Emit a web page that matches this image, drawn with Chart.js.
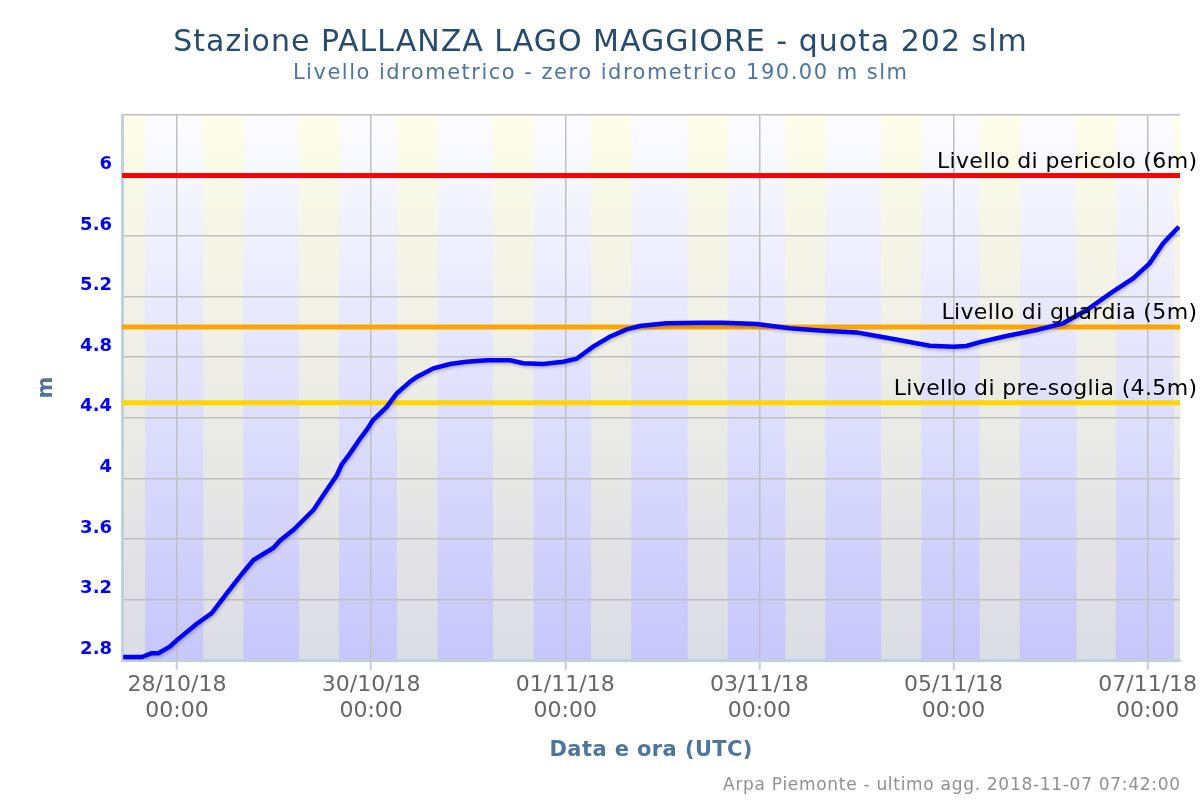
<!DOCTYPE html>
<html>
<head>
<meta charset="utf-8">
<script src="https://cdn.jsdelivr.net/npm/chart.js@4.4.1/dist/chart.umd.min.js"></script>
<style>
  html, body { margin: 0; padding: 0; background: #ffffff; }
  canvas { display: block; }
</style>
</head>
<body>
<canvas id="c" width="1200" height="800"></canvas>
<script>
// ---- DATA ----
const baseTime = Date.UTC(2018, 9, 28, 0, 0); // 28/10/18 00:00 UTC, x values are hours from here
const hours = [
  -13.3, -8.7, -6.3, -4.6, -1.7, -0.1, 4.9, 8.6, 12.3, 16.4,
  18.9, 23.8, 25.5, 28.8, 33.7, 36.2, 39.5, 40.7, 42.8, 45.2,
  46.9, 48.5, 51.8, 54.3, 57.6, 59.3, 63.4, 67.5, 71.6, 76.6,
  82.3, 85.6, 90.5, 95.5, 98.8, 102.9, 107.0, 111.2, 114.4, 121.0,
  129.3, 135.0, 143.3, 151.5, 159.8, 168.0, 173.0, 179.5, 186.1, 191.9,
  195.2, 198.5, 205.1, 212.5, 219.1, 224.9, 231.4, 236.4, 240.5, 243.8,
  247.7
];
const levels = [
  2.82, 2.82, 2.845, 2.845, 2.89, 2.93, 3.04, 3.11, 3.24, 3.38,
  3.46, 3.54, 3.59, 3.66, 3.79, 3.89, 4.02, 4.09, 4.165, 4.26,
  4.32, 4.385, 4.47, 4.56, 4.638, 4.67, 4.727, 4.755, 4.77, 4.78,
  4.78, 4.76, 4.755, 4.77, 4.79, 4.87, 4.935, 4.984, 5.006, 5.024,
  5.028, 5.028, 5.019, 4.991, 4.975, 4.964, 4.94, 4.909, 4.876, 4.869,
  4.874, 4.90, 4.94, 4.98, 5.024, 5.112, 5.233, 5.321, 5.42, 5.552,
  5.662
];
// daylight bands: day index (0 = 27/10) with sunrise / sunset hour (UTC)
const dayIndex   = [0, 1, 2, 3, 4, 5, 6, 7, 8, 9, 10, 11];
const sunriseH   = [6.3, 6.5, 6.2, 6.4, 6.1, 6.4, 6.3, 6.4, 6.1, 6.5, 6.4, 6.5];
const sunsetH    = [16.1, 16.4, 16.05, 16.4, 16.15, 16.3, 16.15, 16.3, 16.05, 16.4, 16.15, 16.3];
const xTicks = [0, 48, 96, 144, 192, 240];
const yTicks = [2.8, 3.2, 3.6, 4.0, 4.4, 4.8, 5.2, 5.6, 6.0, 6.4];
const thresholdValues = [6, 5, 4.5];
const thresholdLabels = ['Livello di pericolo (6m)', 'Livello di guardia (5m)', 'Livello di pre-soglia (4.5m)'];
const thresholdColors = ['#ff0000', '#ffa500', '#ffd700'];
const titleText = 'Stazione PALLANZA LAGO MAGGIORE - quota 202 slm';
const subtitleText = 'Livello idrometrico - zero idrometrico 190.00 m slm';
const xTitle = 'Data e ora (UTC)';
const yTitle = 'm';
const creditText = 'Arpa Piemonte - ultimo agg. 2018-11-07 07:42:00';

const FONT = "'DejaVu Sans', 'Noto Sans', sans-serif";
const pad2 = n => String(n).padStart(2, '0');

function spacedText(ctx, text, x, y, spacing, align) {
  // draws text with letter spacing, honoring alignment
  if ('letterSpacing' in ctx) {
    ctx.letterSpacing = spacing + 'px';
    const w = ctx.measureText(text).width;
    const prev = ctx.textAlign;
    ctx.textAlign = 'left';
    let sx = x;
    if (align === 'center') sx = x - (w - spacing) / 2;
    else if (align === 'right') sx = x - (w - spacing);
    ctx.fillText(text, sx, y);
    ctx.textAlign = prev;
    ctx.letterSpacing = '0px';
  } else {
    ctx.textAlign = align;
    ctx.fillText(text, x, y);
  }
}

const bandsPlugin = {
  id: 'bands',
  beforeDraw(chart) {
    const { ctx, chartArea: a, scales: { x } } = chart;
    ctx.save();
    ctx.beginPath(); ctx.rect(a.left, a.top, a.right - a.left, a.bottom - a.top); ctx.clip();
    const night = ctx.createLinearGradient(0, a.top, 0, a.bottom);
    night.addColorStop(0, 'rgb(252,252,255)');
    night.addColorStop(1, 'rgb(198,198,251)');
    ctx.fillStyle = night;
    ctx.fillRect(a.left, a.top, a.right - a.left, a.bottom - a.top);
    const day = ctx.createLinearGradient(0, a.top, 0, a.bottom);
    day.addColorStop(0, 'rgb(253,253,232)');
    day.addColorStop(1, 'rgb(220,220,229)');
    ctx.fillStyle = day;
    dayIndex.forEach((d, i) => {
      const h0 = (d - 1) * 24 + sunriseH[i];
      const h1 = (d - 1) * 24 + sunsetH[i];
      const x0 = x.getPixelForValue(h0), x1 = x.getPixelForValue(h1);
      ctx.fillRect(x0, a.top, x1 - x0, a.bottom - a.top);
    });
    ctx.restore();
  },
  beforeDatasetsDraw(chart) {
    const { ctx, chartArea: a, scales: { y } } = chart;
    ctx.save();
    thresholdValues.forEach((v, i) => {
      const py = y.getPixelForValue(v);
      ctx.strokeStyle = thresholdColors[i];
      ctx.lineWidth = 5;
      ctx.beginPath(); ctx.moveTo(a.left, py); ctx.lineTo(a.right, py); ctx.stroke();
    });
    ctx.restore();
  },
  beforeDatasetDraw(chart) {
    const ctx = chart.ctx;
    ctx.save();
    ctx.shadowColor = 'rgba(0,0,0,0.22)';
    ctx.shadowOffsetX = 1; ctx.shadowOffsetY = 2; ctx.shadowBlur = 3;
  },
  afterDatasetDraw(chart) { chart.ctx.restore(); },
  afterDraw(chart) {
    const { ctx, chartArea: a, scales: { y } } = chart;
    ctx.save();
    ctx.textBaseline = 'alphabetic';
    // threshold labels
    ctx.fillStyle = '#000000';
    ctx.font = `22px ${FONT}`;
    thresholdValues.forEach((v, i) => {
      const py = y.getPixelForValue(v);
      spacedText(ctx, thresholdLabels[i], 1197, py - 8, 0.35, 'right');
    });
    // title / subtitle
    ctx.fillStyle = '#274b6d';
    ctx.font = `30px ${FONT}`;
    spacedText(ctx, titleText, 600, 51, 1.0, 'center');
    ctx.fillStyle = '#4d759e';
    ctx.font = `21px ${FONT}`;
    spacedText(ctx, subtitleText, 600, 79, 1.5, 'center');
    // axis titles
    ctx.font = `bold 21px ${FONT}`;
    ctx.fillStyle = '#4d759e';
    spacedText(ctx, xTitle, (a.left + a.right) / 2, 756, 0.4, 'center');
    ctx.save();
    ctx.translate(52, (a.top + a.bottom) / 2);
    ctx.rotate(-Math.PI / 2);
    ctx.textAlign = 'center';
    ctx.fillText(yTitle, 0, 0);
    ctx.restore();
    // credits
    ctx.fillStyle = '#909090';
    ctx.font = `17px ${FONT}`;
    spacedText(ctx, creditText, 1180, 790, 0.7, 'right');
    ctx.restore();
  }
};

new Chart(document.getElementById('c'), {
  type: 'line',
  data: {
    datasets: [{
      data: hours.map((h, i) => ({ x: h, y: levels[i] })),
      borderColor: '#0000ff',
      borderWidth: 4.5,
      pointRadius: 0,
      tension: 0,
      fill: false
    }]
  },
  options: {
    responsive: false,
    animation: false,
    layout: { padding: { left: 0, right: 20, top: 115, bottom: 0 } },
    plugins: { legend: { display: false }, tooltip: { enabled: false }, title: { display: false } },
    scales: {
      x: {
        type: 'linear',
        min: -13.6,
        max: 248,
        afterBuildTicks: s => { s.ticks = xTicks.map(v => ({ value: v })); },
        afterFit: s => { s.height = 140; },
        grid: { color: '#c0c0c0', lineWidth: 1.5, tickColor: '#c0d0e0', tickLength: 10, tickWidth: 2, drawTicks: true },
        border: { display: true, color: '#c0d0e0', width: 3 },
        ticks: {
          autoSkip: false, maxRotation: 0, minRotation: 0,
          color: '#666666', padding: 2,
          font: { family: FONT, size: 22, lineHeight: 1.2 },
          callback: v => {
            const d = new Date(baseTime + v * 3600e3);
            return [`${pad2(d.getUTCDate())}/${pad2(d.getUTCMonth() + 1)}/${String(d.getUTCFullYear()).slice(2)}`,
                    `${pad2(d.getUTCHours())}:${pad2(d.getUTCMinutes())}`];
          }
        }
      },
      y: {
        min: 2.8,
        max: 6.4,
        afterBuildTicks: s => { s.ticks = yTicks.map(v => ({ value: v })); },
        afterFit: s => { s.width = 122; },
        grid: { color: '#c0c0c0', lineWidth: 1.5, drawTicks: false },
        border: { display: true, color: '#c0d0e0', width: 3 },
        ticks: {
          color: '#0000ff', padding: 10, labelOffset: -11,
          font: { family: FONT, size: 18, weight: 'bold' },
          callback: v => (v > 6.3 ? '' : String(+v.toFixed(1)))
        }
      }
    }
  },
  plugins: [bandsPlugin]
});
</script>
</body>
</html>
